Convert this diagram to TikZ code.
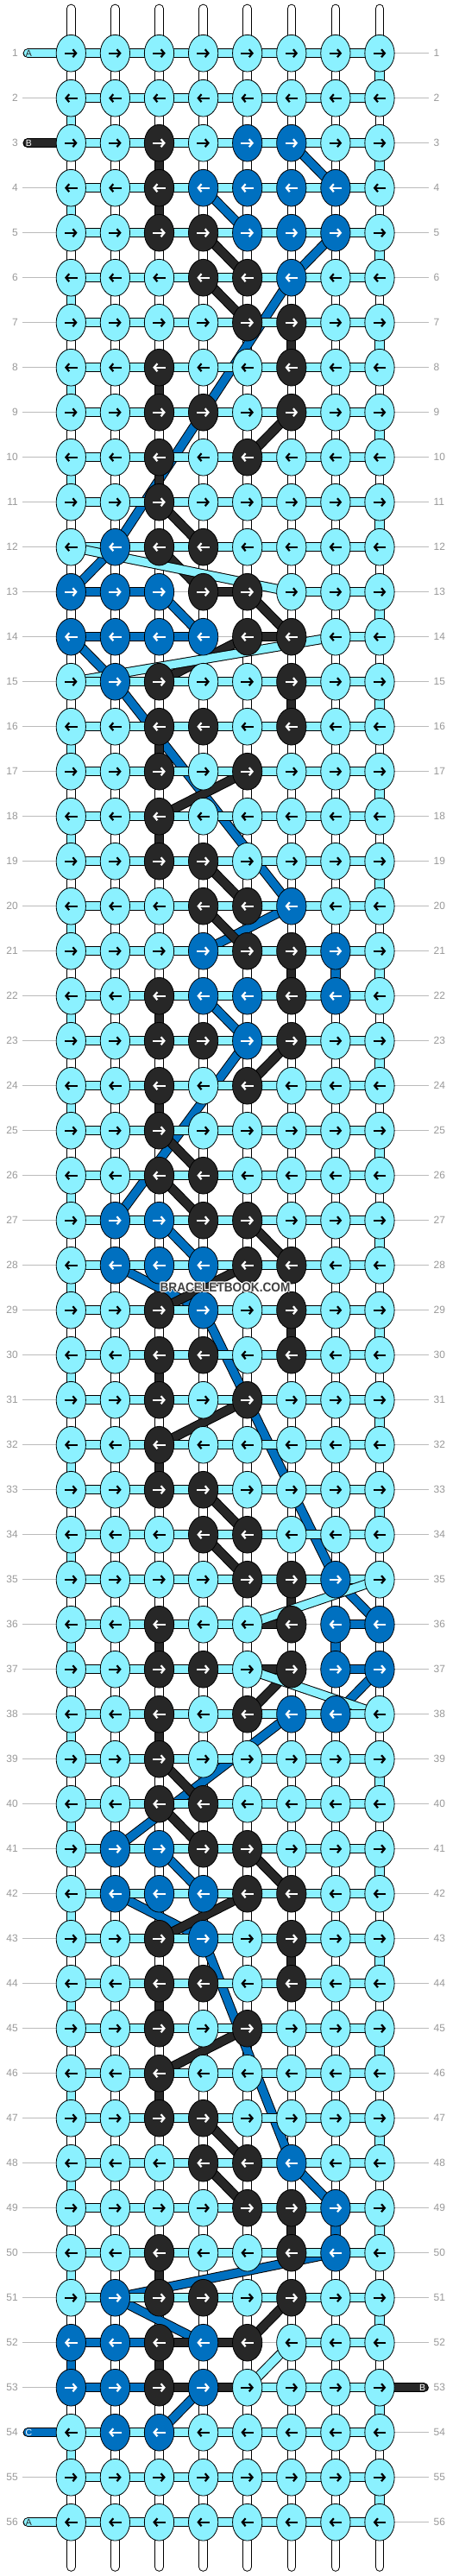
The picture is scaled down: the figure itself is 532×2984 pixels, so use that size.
\documentclass[tikz,border=0pt]{standalone}
\usepackage{fontspec}
\usepackage{graphicx}
\setmainfont{Liberation Sans}
\usetikzlibrary{arrows.meta,shapes.geometric}
\definecolor{ccyan}{HTML}{8BF1FF}
\definecolor{cblack}{HTML}{272727}
\definecolor{cblue}{HTML}{0070C0}
\definecolor{lblgray}{HTML}{999999}
\definecolor{linegray}{HTML}{BBBBBB}
\definecolor{logogray}{HTML}{404040}
\colorlet{str-a}{ccyan}
\colorlet{str-b}{cblack}
\colorlet{str-c}{cblue}
\def\setrow#1#2#3#4#5#6#7#8#9{%
  \expandafter\gdef\csname kn-#1-1\endcsname{#2}%
  \expandafter\gdef\csname kn-#1-2\endcsname{#3}%
  \expandafter\gdef\csname kn-#1-3\endcsname{#4}%
  \expandafter\gdef\csname kn-#1-4\endcsname{#5}%
  \expandafter\gdef\csname kn-#1-5\endcsname{#6}%
  \expandafter\gdef\csname kn-#1-6\endcsname{#7}%
  \expandafter\gdef\csname kn-#1-7\endcsname{#8}%
  \expandafter\gdef\csname kn-#1-8\endcsname{#9}}
\setrow{1}aaaaaaaa
\setrow{2}aaaaaaaa
\setrow{3}aabaccaa
\setrow{4}aabcccca
\setrow{5}aabbccca
\setrow{6}aaabbcaa
\setrow{7}aaaabbaa
\setrow{8}aabaabaa
\setrow{9}aabbabaa
\setrow{10}aababaaa
\setrow{11}aabaaaaa
\setrow{12}acbbaaaa
\setrow{13}cccbbaaa
\setrow{14}ccccbbaa
\setrow{15}acbaabaa
\setrow{16}aabbabaa
\setrow{17}aababaaa
\setrow{18}aabaaaaa
\setrow{19}aabbaaaa
\setrow{20}aaabbcaa
\setrow{21}aaacbbca
\setrow{22}aabccbca
\setrow{23}aabbcbaa
\setrow{24}aababaaa
\setrow{25}aabaaaaa
\setrow{26}aabbaaaa
\setrow{27}accbbaaa
\setrow{28}acccbbaa
\setrow{29}aabcabaa
\setrow{30}aabbabaa
\setrow{31}aababaaa
\setrow{32}aabaaaaa
\setrow{33}aabbaaaa
\setrow{34}aaabbaaa
\setrow{35}aaaabbca
\setrow{36}aabaabcc
\setrow{37}aabbabcc
\setrow{38}aababcca
\setrow{39}aabaaaaa
\setrow{40}aabbaaaa
\setrow{41}accbbaaa
\setrow{42}acccbbaa
\setrow{43}aabcabaa
\setrow{44}aabbabaa
\setrow{45}aababaaa
\setrow{46}aabaaaaa
\setrow{47}aabbaaaa
\setrow{48}aaabbcaa
\setrow{49}aaaabbca
\setrow{50}aabaabca
\setrow{51}acbbabaa
\setrow{52}ccbcbaaa
\setrow{53}ccbcaaaa
\setrow{54}accaaaaa
\setrow{55}aaaaaaaa
\setrow{56}aaaaaaaa
\newcommand\segdraw[3]{%
  \draw[strout] (#1) -- (#2);
  \draw[strin, color=#3] (#1) -- (#2);}
\begin{document}
\begin{tikzpicture}[x=1pt,y=-1pt,
  strout/.style={line width=11.2pt, draw=black, line cap=round},
  strin/.style={line width=9.2pt, line cap=round},
  warpout/.style={line width=10.6pt, draw=black, line cap=round},
  warpin/.style={line width=8.6pt, draw=white, line cap=round},
  rowline/.style={draw=linegray, line width=0.8pt},
  lbl/.style={text=lblgray, font=\fontsize{12}{12}\selectfont, inner sep=0pt},
  knot/.style={ellipse, draw=black, line width=0.8pt, minimum width=34.3pt, minimum height=42.7pt, inner sep=0pt},
  arr/.style={line width=2.2pt, -{Straight Barb[length=3.8pt, width=9pt]}},
  stublbl/.style={font=\fontsize{10.5}{10.5}\selectfont, inner sep=0pt},
  logo/.style={font=\fontsize{15}{15}\selectfont\bfseries, inner sep=0pt}]
\useasboundingbox (0,0) rectangle (532,2984);
\fill[white] (0,0) rectangle (532,2984);
% knot centres
\foreach \ro in {1,...,56}{
  \foreach \co in {1,...,8}{
    \coordinate (k-\ro-\co) at ({82.3+51.1*(\co-1)},{61.7+52*(\ro-1)});
  }
}
% row lines, labels, stub points
\foreach \ro in {1,...,56}{
  \pgfmathsetmacro\yy{61.7+52*(\ro-1)}
  \coordinate (gl-\ro) at (26,\yy);
  \coordinate (gr-\ro) at (497,\yy);
  \coordinate (L-\ro) at (32.3,\yy);
  \coordinate (R-\ro) at (491.2,\yy);
  \draw[rowline] (gl-\ro) -- (gr-\ro);
  \node[lbl, anchor=east] (ll-\ro) at (21,\yy) {\ro};
  \node[lbl, anchor=west] (lr-\ro) at (502.5,\yy) {\ro};
}
% warp strings
\foreach \co in {1,...,8}{
  \pgfmathsetmacro\xx{82.3+51.1*(\co-1)}
  \coordinate (T-\co) at (\xx,10);
  \coordinate (Bt-\co) at (\xx,2973.5);
  \draw[warpout] (T-\co) -- (Bt-\co);
  \draw[warpin] (T-\co) -- (Bt-\co);
}
% coloured strings: blue, black, cyan
\foreach \s in {c,b,a}{%
  \gdef\prevpt{}%
  \foreach \ro in {1,...,56}{%
    \foreach \ii in {1,...,8}{%
      \ifodd\ro\relax \edef\cc{\ii}\else \edef\cc{\the\numexpr9-\ii\relax}\fi
      \edef\kc{\csname kn-\ro-\cc\endcsname}%
      \if\kc\s
        \ifx\prevpt\empty
          \ifodd\ro\relax \edef\stubpt{L-\ro}\else \edef\stubpt{R-\ro}\fi
          \segdraw{\stubpt}{k-\ro-\cc}{str-\s}
        \else
          \segdraw{\prevpt}{k-\ro-\cc}{str-\s}
        \fi
        \xdef\prevpt{k-\ro-\cc}%
        \xdef\prevrow{\ro}%
      \fi
    }%
  }%
  \ifodd\prevrow\relax \edef\stubpt{R-\prevrow}\else \edef\stubpt{L-\prevrow}\fi
  \segdraw{\prevpt}{\stubpt}{str-\s}
}
% knots and arrows
\foreach \ro in {1,...,56}{
  \foreach \co in {1,...,8}{
    \edef\kc{\csname kn-\ro-\co\endcsname}
    \edef\kfill{str-\kc}
    \if\kc a\def\arrcol{black}\else\def\arrcol{white}\fi
    \node[knot, fill=\kfill] (n-\ro-\co) at (k-\ro-\co) {};
    \ifodd\ro\relax
      \draw[arr, draw=\arrcol] ([xshift=-7.3pt]n-\ro-\co.center) -- ([xshift=7.3pt]n-\ro-\co.center);
    \else
      \draw[arr, draw=\arrcol] ([xshift=7.3pt]n-\ro-\co.center) -- ([xshift=-7.3pt]n-\ro-\co.center);
    \fi
  }
}
% stub letters
\node[stublbl, text=black!85] (sA1) at (33.5,61.7) {A};
\node[stublbl, text=white] (sB1) at (33.5,165.7) {B};
\node[stublbl, text=white] (sB2) at (489.5,2765.7) {B};
\node[stublbl, text=white] (sC2) at (33.5,2817.7) {C};
\node[stublbl, text=black!85] (sA2) at (33.5,2921.7) {A};
% logo
\coordinate (logopos) at (261,1491);
\foreach \dx/\dy [count=\h] in {-1/0,1/0,0/-1,0/1,-0.8/-0.8,0.8/0.8,-0.8/0.8,0.8/-0.8}{
  \node[logo, text=white] (halo-\h) at ([shift={(\dx,\dy)}]logopos) {\scalebox{0.91}[1]{BRACELETBOOK.COM}};
}
\node[logo, text=logogray] (logo) at (logopos) {\scalebox{0.91}[1]{BRACELETBOOK.COM}};
\end{tikzpicture}
\end{document}
